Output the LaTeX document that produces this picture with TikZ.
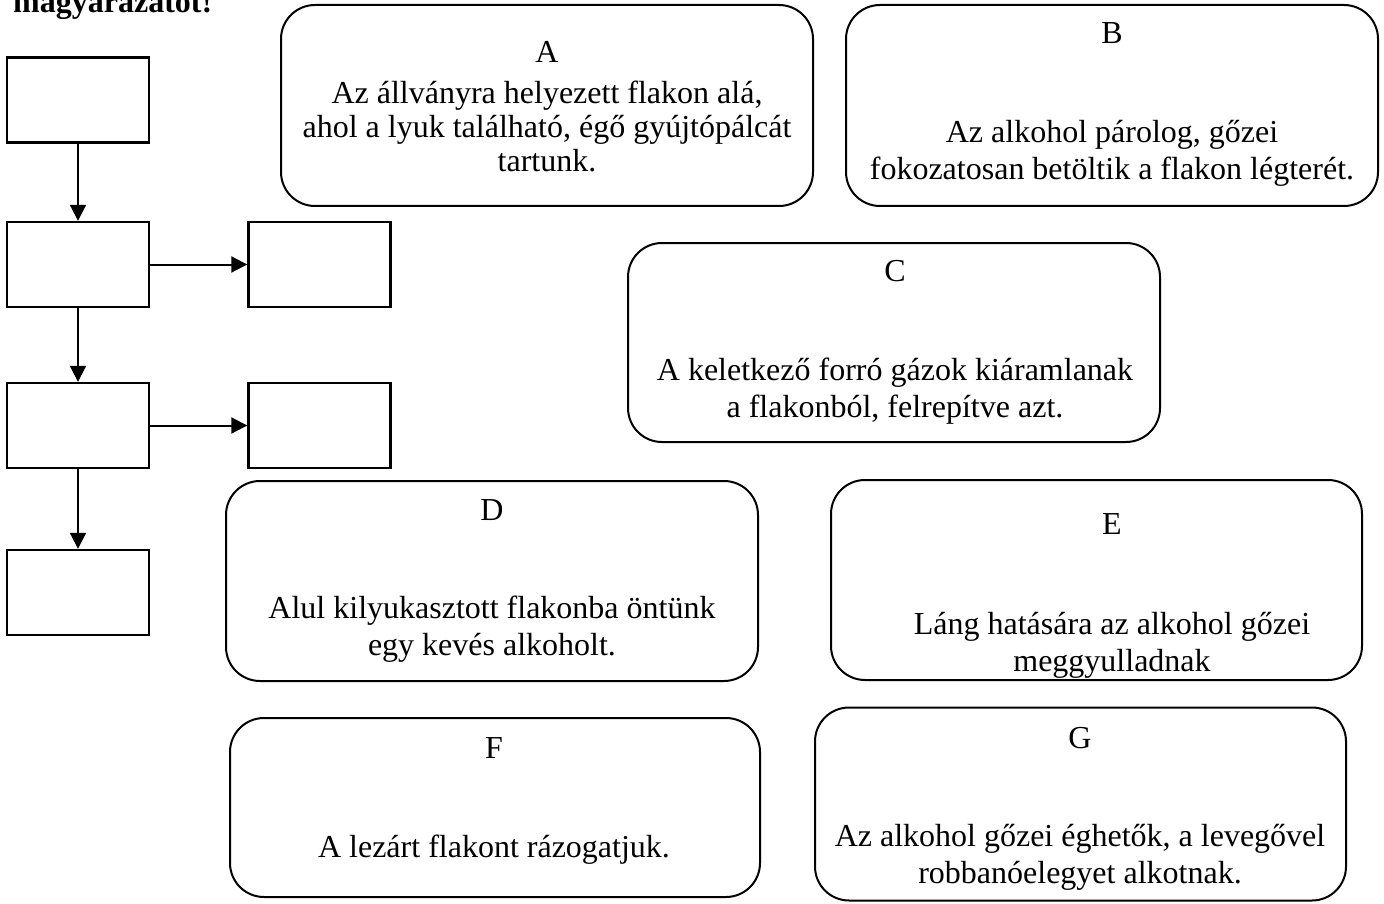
\documentclass[tikz,border=0pt]{standalone}
\usepackage{fontspec}
\setmainfont{Liberation Serif}
\usetikzlibrary{arrows.meta}
\begin{document}
\begin{tikzpicture}[x=1pt,y=-1pt,
  sq/.style={draw, line width=2.4pt, minimum width=142pt, minimum height=85pt, inner sep=0pt},
  rbox/.style={draw, line width=2pt, rounded corners=34pt, inner sep=0pt},
  lbl/.style={font=\fontsize{32}{37}\selectfont, inner sep=0pt},
  txt/.style={font=\fontsize{32}{37}\selectfont, align=center, inner sep=0pt},
  arr/.style={line width=2pt, -{Triangle[length=16pt,width=16pt]}}]
\useasboundingbox (0,0) rectangle (1384,904);
% title (cut at top)
\node[font=\fontsize{32}{37}\selectfont\bfseries, anchor=base west, inner sep=0pt] (title) at (13,13) {magyarázatot!};
% left flow boxes
\node[sq] (b1) at (78,100) {};
\node[sq] (b2) at (78,264.5) {};
\node[sq] (b3) at (78,425.5) {};
\node[sq] (b4) at (78,592.5) {};
\node[sq] (r2) at (319.5,264.5) {};
\node[sq] (r3) at (319.5,425.5) {};
\draw[arr] (b1.south) -- (b2.north);
\draw[arr] (b2.south) -- (b3.north);
\draw[arr] (b3.south) -- (b4.north);
\draw[arr] (b2.east) -- (r2.west);
\draw[arr] (b3.east) -- (r3.west);
% A
\node[rbox, minimum width=532pt, minimum height=201pt] (A) at (547,105.5) {};
\node[lbl] (Al) at (547,52) {A};
\node[txt, font=\fontsize{32}{34}\selectfont] (At) at (547,126) {Az állványra helyezett flakon alá,\\ahol a lyuk található, égő gyújtópálcát\\tartunk.};
% B
\node[rbox, minimum width=532pt, minimum height=201pt] (B) at (1112,105.5) {};
\node[lbl] (Bl) at (1112,33) {B};
\node[txt] (Bt) at (1112,153.5) {Az alkohol párolog, gőzei\\fokozatosan betöltik a flakon légterét.};
% C
\node[rbox, minimum width=532pt, minimum height=199pt] (C) at (894,342.5) {};
\node[lbl] (Cl) at (895,271) {C};
\node[txt] (Ct) at (895,391) {A keletkező forró gázok kiáramlanak\\a flakonból, felrepítve azt.};
% D
\node[rbox, minimum width=532pt, minimum height=200pt] (D) at (492,581) {};
\node[lbl] (Dl) at (492,510) {D};
\node[txt] (Dt) at (492,629) {Alul kilyukasztott flakonba öntünk\\egy kevés alkoholt.};
% E
\node[rbox, minimum width=531pt, minimum height=200pt] (E) at (1096.5,580) {};
\node[lbl] (El) at (1112,524) {E};
\node[txt] (Et) at (1112,645.5) {Láng hatására az alkohol gőzei\\meggyulladnak};
% F
\node[rbox, minimum width=530pt, minimum height=179pt] (F) at (495,807.5) {};
\node[lbl] (Fl) at (494,748) {F};
\node[txt] (Ft) at (494,850) {A lezárt flakont rázogatjuk.};
% G
\node[rbox, minimum width=531pt, minimum height=193pt] (G) at (1080.5,804) {};
\node[lbl] (Gl) at (1080,738) {G};
\node[txt] (Gt) at (1080,857) {Az alkohol gőzei éghetők, a levegővel\\robbanóelegyet alkotnak.};
\end{tikzpicture}
\end{document}
